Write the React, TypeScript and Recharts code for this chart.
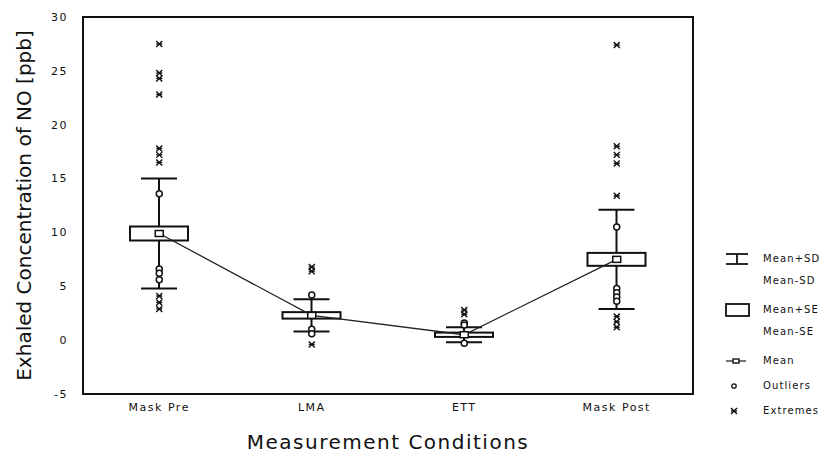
import React from "react"
import { ComposedChart, Bar, Line, Scatter, XAxis, YAxis, ReferenceArea } from "recharts"

const conditions = ["Mask Pre", "LMA", "ETT", "Mask Post"]
const means = [9.9, 2.3, 0.5, 7.5]
const sds = [5.1, 1.5, 0.7, 4.6]
const ses = [0.65, 0.3, 0.2, 0.6]

// outliers (circles) and extremes (asterisks), [condition, value]
const outlierPoints: [string, number][] = [
  ["Mask Pre", 13.6], ["Mask Pre", 6.6], ["Mask Pre", 6.2], ["Mask Pre", 5.6],
  ["LMA", 4.2], ["LMA", 1.0], ["LMA", 0.6],
  ["ETT", 1.6], ["ETT", 1.4], ["ETT", -0.3],
  ["Mask Post", 10.5], ["Mask Post", 4.8], ["Mask Post", 4.4], ["Mask Post", 4.0], ["Mask Post", 3.6],
]
const extremePoints: [string, number][] = [
  ["Mask Pre", 27.5], ["Mask Pre", 24.8], ["Mask Pre", 24.3], ["Mask Pre", 22.8],
  ["Mask Pre", 17.8], ["Mask Pre", 17.2], ["Mask Pre", 16.5],
  ["Mask Pre", 4.1], ["Mask Pre", 3.5], ["Mask Pre", 2.9],
  ["LMA", 6.8], ["LMA", 6.4], ["LMA", -0.4],
  ["ETT", 2.8], ["ETT", 2.4],
  ["Mask Post", 27.4], ["Mask Post", 18.0], ["Mask Post", 17.2], ["Mask Post", 16.4],
  ["Mask Post", 13.4], ["Mask Post", 2.2], ["Mask Post", 1.7], ["Mask Post", 1.2],
]

const yTicks = [-5, 0, 5, 10, 15, 20, 25, 30]

const legendItems = [
  { kind: "sd", lines: ["Mean+SD", "Mean-SD"] },
  { kind: "se", lines: ["Mean+SE", "Mean-SE"] },
  { kind: "mean", lines: ["Mean"] },
  { kind: "outlier", lines: ["Outliers"] },
  { kind: "extreme", lines: ["Extremes"] },
]

const data = conditions.map((cond, i) => ({
  cond,
  mean: means[i],
  sd: sds[i],
  se: ses[i],
  sdRange: [means[i] - sds[i], means[i] + sds[i]],
}))
const outliers = outlierPoints.map(([cond, v]) => ({ cond, v }))
const extremes = extremePoints.map(([cond, v]) => ({ cond, v }))

const INK = "#111"
const FONT = "DejaVu Sans, Verdana, sans-serif"
const tickFont = { fontSize: 11, fill: "#111", fontFamily: FONT, letterSpacing: 1.5 }

// box = mean +/- SE, whiskers = mean +/- SD (bar spans the SD range)
// eslint-disable-next-line @typescript-eslint/no-explicit-any
function BoxWhisker(props: any) {
  const { x, y, width, height, payload } = props
  if (!payload || !height) return null
  const top = Math.min(y, y + height)
  const h = Math.abs(height)
  const perUnit = h / (2 * payload.sd)
  const cx = x + width / 2
  const cy = top + h / 2
  const half = payload.se * perUnit
  const cap = 18
  return (
    <g stroke={INK} strokeWidth={2} fill="none">
      <line x1={cx} y1={top} x2={cx} y2={cy - half} />
      <line x1={cx} y1={cy + half} x2={cx} y2={top + h} />
      <line x1={cx - cap} y1={top} x2={cx + cap} y2={top} />
      <line x1={cx - cap} y1={top + h} x2={cx + cap} y2={top + h} />
      <rect x={x} y={cy - half} width={width} height={half * 2} fill="#fff" />
    </g>
  )
}

function Asterisk({ cx, cy }: { cx: number; cy: number }) {
  const s = 3
  return (
    <g stroke={INK} strokeWidth={1.4}>
      <line x1={cx - s} y1={cy} x2={cx + s} y2={cy} />
      <line x1={cx - s} y1={cy - s} x2={cx + s} y2={cy + s} />
      <line x1={cx + s} y1={cy - s} x2={cx - s} y2={cy + s} />
    </g>
  )
}

function LegendIcon({ kind }: { kind: string }) {
  return (
    <svg width={26} height={14} style={{ display: "block" }}>
      <g stroke={INK} strokeWidth={1.8} fill="none">
        {kind === "sd" && (
          <>
            <line x1={2} y1={2} x2={24} y2={2} />
            <line x1={2} y1={12} x2={24} y2={12} />
            <line x1={13} y1={2} x2={13} y2={12} />
          </>
        )}
        {kind === "se" && <rect x={2} y={1} width={23} height={12} />}
        {kind === "mean" && (
          <>
            <line x1={2} y1={7} x2={22} y2={7} strokeWidth={1.2} />
            <rect x={9} y={5} width={6} height={4} fill="#fff" strokeWidth={1.4} />
          </>
        )}
        {kind === "outlier" && <circle cx={10} cy={7} r={2.2} strokeWidth={1.3} />}
      </g>
      {kind === "extreme" && <Asterisk cx={10} cy={7} />}
    </svg>
  )
}

export default function App() {
  return (
    <div style={{ position: "absolute", left: 0, top: 0, width: 828, height: 454, background: "#fff" }}>
      <ComposedChart width={828} height={454} data={data} margin={{ top: 17, right: 135, bottom: 0, left: 0 }}>
        <XAxis
          dataKey="cond"
          allowDuplicatedCategory={false}
          interval={0}
          tickSize={0}
          tickMargin={9}
          tick={tickFont}
          height={60}
          axisLine={{ stroke: INK, strokeWidth: 2 }}
          label={{
            value: "Measurement Conditions",
            position: "insideBottom",
            offset: 5,
            fontSize: 20,
            fill: "#111",
            fontFamily: FONT,
            letterSpacing: 1.5,
          }}
        />
        <YAxis
          type="number"
          domain={[-5, 30]}
          ticks={yTicks}
          width={83}
          tickSize={0}
          tickMargin={15}
          tick={tickFont}
          axisLine={{ stroke: INK, strokeWidth: 2 }}
          label={{
            value: "Exhaled Concentration of NO [ppb]",
            angle: -90,
            position: "insideLeft",
            offset: 24,
            fontSize: 20,
            fill: "#111",
            fontFamily: FONT,
            style: { textAnchor: "middle" },
          }}
        />
        <ReferenceArea y1={-5} y2={30} fill="none" stroke={INK} strokeWidth={2} ifOverflow="visible" />
        <Bar dataKey="sdRange" barSize={58} shape={<BoxWhisker />} isAnimationActive={false} />
        <Line
          dataKey="mean"
          stroke="#222"
          strokeWidth={1.3}
          isAnimationActive={false}
          activeDot={false}
          // eslint-disable-next-line @typescript-eslint/no-explicit-any
          dot={(p: any) => (
            <rect key={p.index} x={p.cx - 4} y={p.cy - 3} width={8} height={6} fill="#fff" stroke={INK} strokeWidth={1.5} />
          )}
        />
        <Scatter
          data={outliers}
          dataKey="v"
          isAnimationActive={false}
          // eslint-disable-next-line @typescript-eslint/no-explicit-any
          shape={(p: any) => <circle cx={p.cx} cy={p.cy} r={3} fill="#fff" stroke={INK} strokeWidth={1.5} />}
        />
        <Scatter
          data={extremes}
          dataKey="v"
          isAnimationActive={false}
          // eslint-disable-next-line @typescript-eslint/no-explicit-any
          shape={(p: any) => <Asterisk cx={p.cx} cy={p.cy} />}
        />
      </ComposedChart>

      <div
        style={{
          position: "absolute",
          left: 724,
          top: 248,
          fontFamily: FONT,
          fontSize: 10,
          letterSpacing: 1.1,
          color: "#111",
        }}
      >
        {legendItems.map((item) => (
          <div key={item.kind} style={{ display: "flex", alignItems: "flex-start", marginBottom: item.lines.length > 1 ? 7 : 3 }}>
            <div style={{ width: 39, paddingTop: 4 }}>
              <LegendIcon kind={item.kind} />
            </div>
            <div>
              {item.lines.map((t) => (
                <div key={t} style={{ height: 22, lineHeight: "22px", whiteSpace: "nowrap" }}>{t}</div>
              ))}
            </div>
          </div>
        ))}
      </div>
    </div>
  )
}
